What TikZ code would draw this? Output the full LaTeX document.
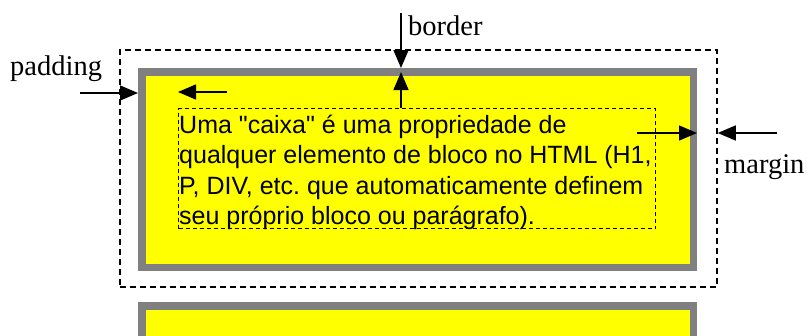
\documentclass[tikz,border=0pt]{standalone}
\usepackage{fontspec}
\setmainfont{Liberation Serif}
\newfontfamily\arialfont{Liberation Sans}
\usetikzlibrary{arrows.meta}
\definecolor{boxgray}{HTML}{808080}
\definecolor{boxyellow}{HTML}{FFFF00}
\tikzset{
  marginbox/.style={draw=black, line width=1.5pt, dash pattern=on 6pt off 4pt, minimum width=597pt, minimum height=237pt, inner sep=0pt},
  borderbox/.style={draw=boxgray, fill=boxyellow, line width=7.5pt, minimum width=551.5pt, minimum height=195.5pt, inner sep=0pt},
  contentbox/.style={draw=black, line width=1.3pt, dash pattern=on 4pt off 3pt, inner sep=0pt, minimum width=477pt, minimum height=120pt},
  contenttext/.style={inner sep=0pt, align=left, font=\arialfont\fontsize{25pt}{30.5pt}\selectfont},
  lbl/.style={inner sep=0pt, font=\fontsize{28.5pt}{31pt}\selectfont},
  arr/.style={line width=1.5pt, -{Triangle[length=18pt,width=15pt]}}
}
\begin{document}
\frenchspacing
\begin{tikzpicture}[x=1pt,y=-1pt]
\useasboundingbox (0,0) rectangle (812,335);
\fill[white] (0,0) rectangle (812,335);
\begin{scope}
\clip (0,0) rectangle (812,335);
\node[marginbox] (margin) at (418.5,168.5) {};
\node[borderbox] (border) at (417.5,169.5) {};
\node[borderbox, minimum height=100pt] (border2) at (417.5,355.75) {};
\end{scope}
\node[contentbox, anchor=north west] (content) at (178,108) {};
\node[contenttext, anchor=base west] (txt) at (179,224.5) {Uma "caixa" é uma propriedade de\\qualquer elemento de bloco no HTML (H1,\\P, DIV, etc. que automaticamente definem\\seu próprio bloco ou parágrafo).};
\node[lbl, anchor=base west] (padlbl) at (10,75) {padding};
\node[lbl, anchor=base west] (borderlbl) at (408,35) {border};
\node[lbl, anchor=base west] (marginlbl) at (724,173) {margin};
\coordinate (padstart) at (80,93);
\coordinate (padin) at (227,92);
\coordinate (bordertop) at (401,13);
\coordinate (bordermid) at (401,72);
\coordinate (mrgin) at (637,133);
\coordinate (mrgout) at (777,133);
\draw[arr] (padstart) -- (padstart -| border.west);
\draw[arr] (padin) -- (padin -| content.west);
\draw[arr] (bordertop) -- (bordertop |- border.north);
\draw[arr] (bordermid |- content.north) -- (bordermid);
\draw[arr] (mrgin) -- (mrgin -| border.east);
\draw[arr] (mrgout) -- (mrgout -| margin.east);
\end{tikzpicture}
\end{document}
